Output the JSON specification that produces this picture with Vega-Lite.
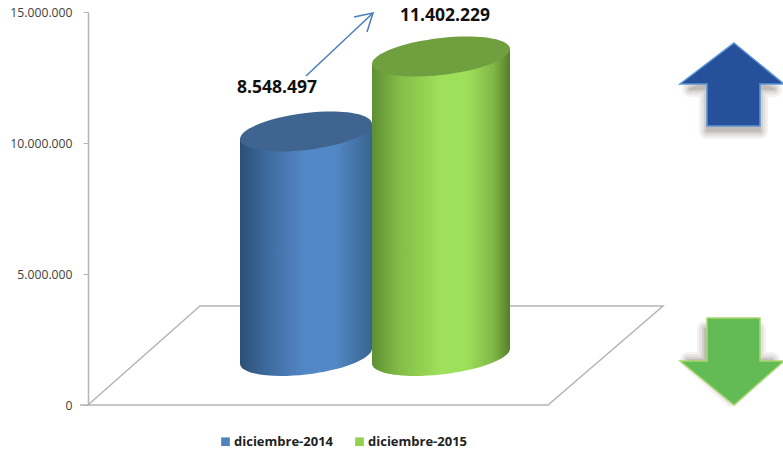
{"$schema":"https://vega.github.io/schema/vega-lite/v6.json","width":695,"height":393,"autosize":{"type":"none"},"padding":{"left":88,"top":12,"right":0,"bottom":45},"background":"white","config":{"view":{"stroke":null},"locale":{"number":{"decimal":",","thousands":".","grouping":[3],"currency":["$",""]}}},
"datasets":{"barras":[{"periodo":"diciembre-2014","valor":8548497},{"periodo":"diciembre-2015","valor":11402229}],
"piso":[{"orden":1,"x":-8,"y":0},{"orden":2,"x":460,"y":0},{"orden":3,"x":575,"y":3779000},{"orden":4,"x":112,"y":3779000},{"orden":5,"x":0,"y":0}],
"sube":[{"x":644,"y":12252000}],"baja":[{"x":644,"y":1679000}],
"conector":[{"x":218,"y":12557000,"x2":285,"y2":14960000}]},
"layer":[
{"data":{"name":"piso"},"mark":{"type":"line","color":"#b5b5b5","strokeWidth":1.5,"clip":false},"encoding":{"x":{"field":"x","type":"quantitative","scale":{"domain":[0,695]},"axis":null},"y":{"field":"y","type":"quantitative","scale":{"domain":[0,15000000],"nice":false},"axis":{"title":null,"values":[0,5000000,10000000,15000000],"format":",d","grid":false,"domainColor":"#b5b5b5","domainWidth":1.5,"tickColor":"#b5b5b5","tickSize":5,"tickWidth":1,"labelFont":"Open Sans","labelFontSize":12.2,"labelColor":"#404040","labelPadding":11}},"order":{"field":"orden"}}},
{"data":{"name":"barras"},"mark":{"type":"bar","width":130,"yOffset":7.5,"y2Offset":-7.5},"encoding":{"x":{"field":"periodo","type":"nominal","scale":{"type":"point","padding":0,"domain":["diciembre-2014","diciembre-2015"],"range":[218,353]},"axis":null},"y":{"field":"valor","type":"quantitative","scale":{"domain":[-1866000,13099772],"nice":false,"zero":false},"axis":null},"y2":{"datum":0},"color":{"field":"periodo","type":"nominal","scale":{"domain":["diciembre-2014","diciembre-2015"],"range":["#4f81bd","#92d050"]},"legend":{"title":null,"orient":"none","legendX":131,"legendY":423,"direction":"horizontal","columns":2,"columnPadding":19,"symbolType":"square","symbolSize":75,"symbolStrokeWidth":0,"labelFont":"Open Sans","labelFontWeight":"bold","labelFontSize":13,"labelColor":"#222222","labelOffset":2}}}},
{"data":{"name":"barras"},"transform":[{"filter":{"field":"periodo","equal":"diciembre-2014"}}],"encoding":{"x":{"field":"periodo","type":"nominal","scale":{"type":"point","padding":0,"domain":["diciembre-2014","diciembre-2015"],"range":[218,353]},"axis":null},"y":{"field":"valor","type":"quantitative","scale":{"domain":[-1866000,13099772],"nice":false,"zero":false},"axis":null}},"layer":[
{"mark":{"type":"point","filled":true,"opacity":1,"size":4,"stroke":null,"shape":"M-66,-8.5L66,-8.5L66,-7.5C66,2.7 36.45,14.36 0,18.5C-36.45,22.64 -66,17.7 -66,7.5Z","fill":{"x1":0,"x2":1,"y1":0,"y2":0,"gradient":"linear","stops":[{"offset":0,"color":"#2b5078"},{"offset":0.25,"color":"#4270a5"},{"offset":0.5,"color":"#5388c7"},{"offset":0.72,"color":"#5388c7"},{"offset":1,"color":"#38648f"}]}},"encoding":{"y":{"datum":0,"type":"quantitative","scale":{"domain":[-1866000,13099772],"nice":false,"zero":false},"axis":null}}},
{"mark":{"type":"bar","width":132,"yOffset":7.5,"y2Offset":-7.5,"fill":{"x1":0,"x2":1,"y1":0,"y2":0,"gradient":"linear","stops":[{"offset":0,"color":"#2b5078"},{"offset":0.25,"color":"#4270a5"},{"offset":0.5,"color":"#5388c7"},{"offset":0.72,"color":"#5388c7"},{"offset":1,"color":"#38648f"}]}},"encoding":{"y2":{"datum":0}}},
{"mark":{"type":"point","filled":true,"opacity":1,"size":4,"stroke":null,"shape":"M-66,7.5L66,-7.5L66,8.5L-66,8.5Z","fill":{"x1":0,"x2":1,"y1":0,"y2":0,"gradient":"linear","stops":[{"offset":0,"color":"#2b5078"},{"offset":0.25,"color":"#4270a5"},{"offset":0.5,"color":"#5388c7"},{"offset":0.72,"color":"#5388c7"},{"offset":1,"color":"#38648f"}]}}},
{"mark":{"type":"point","filled":true,"opacity":1,"size":4,"stroke":null,"fill":"#3e648f","shape":"M66,-7.5C66,2.7 36.45,14.36 0,18.5C-36.45,22.64 -66,17.7 -66,7.5C-66,-2.7 -36.45,-14.36 0,-18.5C36.45,-22.64 66,-17.7 66,-7.5Z"}}
]},
{"data":{"name":"barras"},"transform":[{"filter":{"field":"periodo","equal":"diciembre-2015"}}],"encoding":{"x":{"field":"periodo","type":"nominal","scale":{"type":"point","padding":0,"domain":["diciembre-2014","diciembre-2015"],"range":[218,353]},"axis":null},"y":{"field":"valor","type":"quantitative","scale":{"domain":[-1866000,13099772],"nice":false,"zero":false},"axis":null}},"layer":[
{"mark":{"type":"point","filled":true,"opacity":1,"size":4,"stroke":null,"shape":"M-69,-8.5L69,-8.5L69,-7.5C69,2.7 38.1,14.36 0,18.5C-38.1,22.64 -69,17.7 -69,7.5Z","fill":{"x1":0,"x2":1,"y1":0,"y2":0,"gradient":"linear","stops":[{"offset":0,"color":"#5e8f33"},{"offset":0.2,"color":"#84bd48"},{"offset":0.5,"color":"#9fe05a"},{"offset":0.68,"color":"#9fe05a"},{"offset":0.88,"color":"#80b946"},{"offset":1,"color":"#567d2c"}]}},"encoding":{"y":{"datum":0,"type":"quantitative","scale":{"domain":[-1866000,13099772],"nice":false,"zero":false},"axis":null}}},
{"mark":{"type":"bar","width":138,"yOffset":7.5,"y2Offset":-7.5,"fill":{"x1":0,"x2":1,"y1":0,"y2":0,"gradient":"linear","stops":[{"offset":0,"color":"#5e8f33"},{"offset":0.2,"color":"#84bd48"},{"offset":0.5,"color":"#9fe05a"},{"offset":0.68,"color":"#9fe05a"},{"offset":0.88,"color":"#80b946"},{"offset":1,"color":"#567d2c"}]}},"encoding":{"y2":{"datum":0}}},
{"mark":{"type":"point","filled":true,"opacity":1,"size":4,"stroke":null,"shape":"M-69,7.5L69,-7.5L69,8.5L-69,8.5Z","fill":{"x1":0,"x2":1,"y1":0,"y2":0,"gradient":"linear","stops":[{"offset":0,"color":"#5e8f33"},{"offset":0.2,"color":"#84bd48"},{"offset":0.5,"color":"#9fe05a"},{"offset":0.68,"color":"#9fe05a"},{"offset":0.88,"color":"#80b946"},{"offset":1,"color":"#567d2c"}]}}},
{"mark":{"type":"point","filled":true,"opacity":1,"size":4,"stroke":null,"fill":"#709f3f","shape":"M69,-7.5C69,2.7 38.1,14.36 0,18.5C-38.1,22.64 -69,17.7 -69,7.5C-69,-2.7 -38.1,-14.36 0,-18.5C38.1,-22.64 69,-17.7 69,-7.5Z"}}
]},
{"data":{"name":"barras"},"transform":[{"filter":{"field":"periodo","equal":"diciembre-2014"}}],"mark":{"type":"text","font":"Open Sans","fontWeight":"bold","fontSize":17.5,"color":"#111111","dx":-29,"dy":-43.5},"encoding":{"x":{"field":"periodo","type":"nominal","scale":{"type":"point","padding":0,"domain":["diciembre-2014","diciembre-2015"],"range":[218,353]},"axis":null},"y":{"field":"valor","type":"quantitative","scale":{"domain":[-1866000,13099772],"nice":false,"zero":false},"axis":null},"text":{"field":"valor","type":"quantitative","format":",d"}}},
{"data":{"name":"barras"},"transform":[{"filter":{"field":"periodo","equal":"diciembre-2015"}}],"mark":{"type":"text","font":"Open Sans","fontWeight":"bold","fontSize":17.5,"color":"#111111","dx":4,"dy":-40.5},"encoding":{"x":{"field":"periodo","type":"nominal","scale":{"type":"point","padding":0,"domain":["diciembre-2014","diciembre-2015"],"range":[218,353]},"axis":null},"y":{"field":"valor","type":"quantitative","scale":{"domain":[-1866000,13099772],"nice":false,"zero":false},"axis":null},"text":{"field":"valor","type":"quantitative","format":",d"}}},
{"data":{"name":"conector"},"mark":{"type":"rule","color":"#4a7ebb","strokeWidth":1.5},"encoding":{"x":{"field":"x","type":"quantitative","scale":{"domain":[0,695]},"axis":null},"x2":{"field":"x2"},"y":{"field":"y","type":"quantitative","scale":{"domain":[0,15000000],"nice":false},"axis":null},"y2":{"field":"y2"}}},
{"data":{"name":"conector"},"mark":{"type":"point","filled":false,"opacity":1,"size":4,"strokeWidth":1.5,"color":"#4a7ebb","fill":null,"shape":"M-19,4L0,0L-6,19"},"encoding":{"x":{"field":"x2","type":"quantitative","scale":{"domain":[0,695]},"axis":null},"y":{"field":"y2","type":"quantitative","scale":{"domain":[0,15000000],"nice":false},"axis":null}}},
{"data":{"name":"sube"},"layer":[
{"mark":{"type":"point","filled":true,"opacity":0.07,"size":4,"fill":"#6a5a50","stroke":"#6a5a50","strokeJoin":"round","strokeWidth":16,"yOffset":5,"shape":"M2,-15L42,0L28,0L28,42L-25,42L-25,0L-42,0Z"}},
{"mark":{"type":"point","filled":true,"opacity":0.1,"size":4,"fill":"#6a5a50","stroke":"#6a5a50","strokeJoin":"round","strokeWidth":11,"yOffset":5,"shape":"M2,-15L42,0L28,0L28,42L-25,42L-25,0L-42,0Z"}},
{"mark":{"type":"point","filled":true,"opacity":0.13,"size":4,"fill":"#6a5a50","stroke":"#6a5a50","strokeJoin":"round","strokeWidth":6,"yOffset":5,"shape":"M2,-15L42,0L28,0L28,42L-25,42L-25,0L-42,0Z"}},
{"mark":{"type":"point","filled":true,"opacity":0.16,"size":4,"fill":"#6a5a50","stroke":"#6a5a50","strokeJoin":"round","strokeWidth":2,"yOffset":5,"shape":"M2,-15L42,0L28,0L28,42L-25,42L-25,0L-42,0Z"}},
{"mark":{"type":"point","filled":true,"opacity":1,"size":4,"fill":"#27509b","stroke":"#5b95d6","strokeWidth":1.5,"shape":"M2,-41L52,0L28,0L28,42L-25,42L-25,0L-52,0Z"}}
],"encoding":{"x":{"field":"x","type":"quantitative","scale":{"domain":[0,695]},"axis":null},"y":{"field":"y","type":"quantitative","scale":{"domain":[0,15000000],"nice":false},"axis":null}}},
{"data":{"name":"baja"},"layer":[
{"mark":{"type":"point","filled":true,"opacity":0.07,"size":4,"fill":"#6a5a50","stroke":"#6a5a50","strokeJoin":"round","strokeWidth":16,"yOffset":2,"xOffset":-2,"shape":"M-25,-34L28,-34L28,-3L42,-3L2,36L-42,-3L-25,-3Z"}},
{"mark":{"type":"point","filled":true,"opacity":0.1,"size":4,"fill":"#6a5a50","stroke":"#6a5a50","strokeJoin":"round","strokeWidth":11,"yOffset":2,"xOffset":-2,"shape":"M-25,-34L28,-34L28,-3L42,-3L2,36L-42,-3L-25,-3Z"}},
{"mark":{"type":"point","filled":true,"opacity":0.13,"size":4,"fill":"#6a5a50","stroke":"#6a5a50","strokeJoin":"round","strokeWidth":6,"yOffset":2,"xOffset":-2,"shape":"M-25,-34L28,-34L28,-3L42,-3L2,36L-42,-3L-25,-3Z"}},
{"mark":{"type":"point","filled":true,"opacity":0.16,"size":4,"fill":"#6a5a50","stroke":"#6a5a50","strokeJoin":"round","strokeWidth":2,"yOffset":2,"xOffset":-2,"shape":"M-25,-34L28,-34L28,-3L42,-3L2,36L-42,-3L-25,-3Z"}},
{"mark":{"type":"point","filled":true,"opacity":1,"size":4,"fill":"#62bb55","stroke":"#a9d66f","strokeWidth":1.5,"shape":"M-25,-43L28,-43L28,0L52,0L2,44L-52,0L-25,0Z"}}
],"encoding":{"x":{"field":"x","type":"quantitative","scale":{"domain":[0,695]},"axis":null},"y":{"field":"y","type":"quantitative","scale":{"domain":[0,15000000],"nice":false},"axis":null}}}
],"resolve":{"scale":{"x":"independent","y":"independent"},"axis":{"x":"independent","y":"independent"}}}
